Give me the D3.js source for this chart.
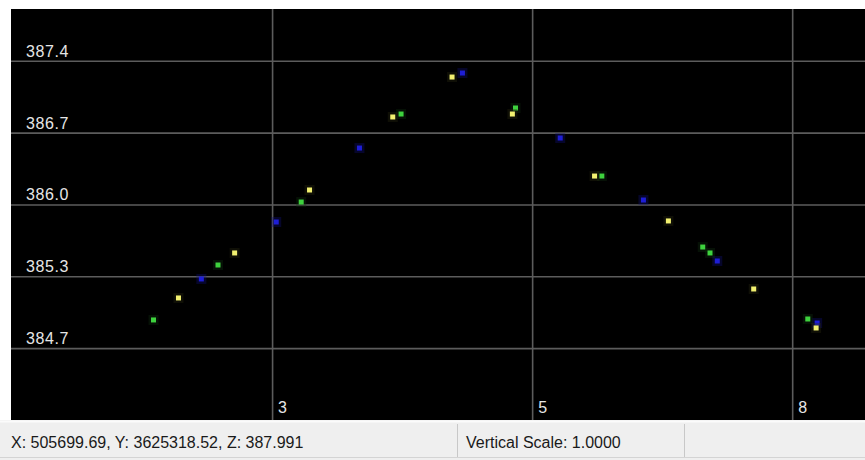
<!DOCTYPE html>
<html lang="en">
<head>
    <meta charset="UTF-8">
    <title>Profile</title>
    <script src="https://cdn.jsdelivr.net/npm/d3@7"></script>
    <style>
        body { margin: 0; background: #fff; }
        svg { display: block; }
    </style>
</head>
<body>
    <svg width="865" height="460"></svg>
    <script>
        // points by colour: x = distance, z = elevation
        const blueX = [2.32, 3.04, 3.84, 4.83, 5.77, 6.57, 7.28, 8.24]
        const blueZ = [385.315, 385.854, 386.554, 387.264, 386.649, 386.062, 385.485, 384.898]
        const greenX = [1.86, 2.48, 3.28, 4.24, 5.34, 6.17, 7.14, 7.21, 8.15]
        const greenZ = [384.927, 385.447, 386.043, 386.876, 386.933, 386.289, 385.617, 385.561, 384.936]
        const yellowX = [2.10, 2.64, 3.36, 4.16, 4.73, 5.31, 6.10, 6.81, 7.63, 8.23]
        const yellowZ = [385.135, 385.561, 386.157, 386.848, 387.226, 386.876, 386.289, 385.864, 385.220, 384.851]

        const yTicks = [387.38, 386.70, 386.02, 385.34, 384.66]
        const xTicks = [3, 5.5, 8]
        const xTickLabels = ['3', '5', '8']
        const statusText = 'X: 505699.69, Y: 3625318.52, Z: 387.991'
        const scaleText = 'Vertical Scale: 1.0000'

        const svg = d3.select('svg')
        const pLeft = 11, pTop = 9, pRight = 865, pBottom = 420

        const x = d3.scaleLinear().domain([0.49, 8.70]).range([pLeft, pRight])
        const y = d3.scaleLinear().domain([383.98, 387.87]).range([pBottom, pTop])

        // plot background
        svg.append('rect')
            .attr('x', pLeft).attr('y', pTop)
            .attr('width', pRight - pLeft).attr('height', pBottom - pTop)
            .attr('fill', '#000')

        // grid lines
        svg.append('g')
            .attr('transform', `translate(0,${pBottom})`)
            .call(d3.axisBottom(x).tickValues(xTicks).tickSize(-(pBottom - pTop)).tickFormat(''))
            .call(g => g.select('.domain').remove())
            .selectAll('line').attr('stroke', '#5c5c5c').attr('stroke-width', 1.6)

        svg.append('g')
            .attr('transform', `translate(${pLeft},0)`)
            .call(d3.axisLeft(y).tickValues(yTicks).tickSize(-(pRight - pLeft)).tickFormat(''))
            .call(g => g.select('.domain').remove())
            .selectAll('line').attr('stroke', '#5c5c5c').attr('stroke-width', 1.6)

        // tick labels
        svg.selectAll('.ylab')
            .data(yTicks)
            .enter()
            .append('text')
            .attr('class', 'ylab')
            .attr('x', 26)
            .attr('y', d => y(d) - 4)
            .text(d => d3.format('.1f')(d))
            .attr('fill', '#e6e6e6')
            .attr('font-family', 'Liberation Sans, Arial, sans-serif')
            .attr('font-size', 16)
            .attr('letter-spacing', 0.6)

        svg.selectAll('.xlab')
            .data(xTicks)
            .enter()
            .append('text')
            .attr('class', 'xlab')
            .attr('x', d => x(d) + 6)
            .attr('y', 413)
            .text((d, i) => xTickLabels[i])
            .attr('fill', '#e6e6e6')
            .attr('font-family', 'Liberation Sans, Arial, sans-serif')
            .attr('font-size', 16)

        // points, blue first so yellow sits on top
        const series = [
            { xs: blueX, zs: blueZ, color: '#1e1ed6', glow: '#10107a' },
            { xs: greenX, zs: greenZ, color: '#3ed23e', glow: '#103010' },
            { xs: yellowX, zs: yellowZ, color: '#f2f070', glow: '#2a2a10' }
        ]
        const pts = svg.append('g')
        series.forEach(s => {
            const data = s.xs.map((v, i) => ({ x: v, z: s.zs[i] }))
            pts.selectAll(null)
                .data(data)
                .enter()
                .append('rect')
                .attr('x', d => x(d.x) - 5)
                .attr('y', d => y(d.z) - 5)
                .attr('width', 10).attr('height', 10)
                .attr('fill', s.glow)
                .attr('opacity', 0.35)
            pts.selectAll(null)
                .data(data)
                .enter()
                .append('rect')
                .attr('x', d => x(d.x) - 2.5)
                .attr('y', d => y(d.z) - 2.5)
                .attr('width', 5).attr('height', 5)
                .attr('fill', s.color)
        })

        // status bar
        const bar = svg.append('g')
        bar.append('rect').attr('x', 0).attr('y', pBottom).attr('width', 865).attr('height', 40).attr('fill', '#efefef')
        bar.append('line').attr('x1', 0).attr('x2', 865).attr('y1', pBottom + 1.5).attr('y2', pBottom + 1.5)
            .attr('stroke', '#fbfbfb').attr('stroke-width', 2)
        bar.append('line').attr('x1', 0).attr('x2', 865).attr('y1', 457.5).attr('y2', 457.5)
            .attr('stroke', '#d4d4d4')
        ;[457.5, 684.5].forEach(px => {
            bar.append('line').attr('x1', px).attr('x2', px).attr('y1', 424).attr('y2', 457)
                .attr('stroke', '#c8c8c8')
        })
        bar.append('text').attr('x', 11).attr('y', 448).text(statusText)
            .attr('fill', '#1a1a1a').attr('font-family', 'Liberation Sans, Arial, sans-serif').attr('font-size', 16)
        bar.append('text').attr('x', 466).attr('y', 448).text(scaleText)
            .attr('fill', '#1a1a1a').attr('font-family', 'Liberation Sans, Arial, sans-serif').attr('font-size', 16)
    </script>
</body>
</html>
